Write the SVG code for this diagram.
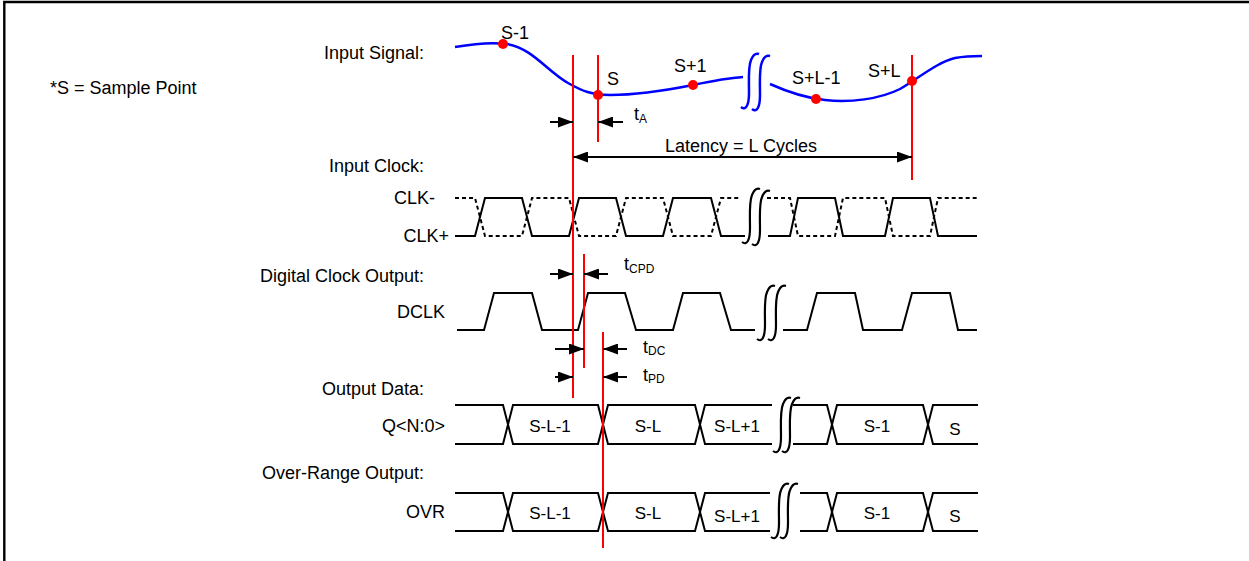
<svg xmlns="http://www.w3.org/2000/svg" width="1249" height="561" viewBox="0 0 1249 561">
<style>
text{font-family:"Liberation Sans",Arial,sans-serif;font-size:18px;fill:#000}
.r{text-anchor:end}
.m{text-anchor:middle}
.d{font-size:17px}
.sub{font-size:12px}
.sig{fill:none;stroke:#000;stroke-width:2;stroke-linejoin:miter}
.dash{fill:none;stroke:#000;stroke-width:2;stroke-dasharray:4 3}
.blue{fill:none;stroke:#0000ff;stroke-width:2.5}
.red{stroke:#ff0000;stroke-width:2}
.dot{fill:#ff0000}
.brk{fill:none;stroke:#000;stroke-width:2.2}
.arr{stroke:#000;stroke-width:2;fill:none}
</style>
<defs>
<marker id="ah" viewBox="0 0 15 11" refX="15" refY="5.5" markerWidth="15" markerHeight="11" orient="auto-start-reverse" markerUnits="userSpaceOnUse"><path d="M0,0 L15,5.5 L0,11 z" fill="#000"/></marker>
<path id="brk" d="M0,54 C5,58 8,52 8,40 C8,26 7,14 10,7 C12,2 15,0 18,1"/>
</defs>
<rect width="1249" height="561" fill="#fff"/>
<path d="M4.3,561 V2 H1249" fill="none" stroke="#000" stroke-width="2.4"/>

<g id="legend"><text x="50" y="94">*S = Sample Point</text></g>

<g id="input-signal">
<text class="r" x="424" y="59">Input Signal:</text>
<path class="blue" d="M455,47 C472,44 492,42 507,44 C532,48 548,72 568,83 C582,91 592,95 610,95 C640,95 668,90 693,85 C712,81 728,78 743,77"/>
<path class="blue" d="M770,84 C790,93 805,98 825,100 C850,103 880,99 900,89 C920,77 938,62 955,58 C966,56 975,56 982,56"/>
<g stroke="#0000ff" stroke-width="2.5" fill="none"><use href="#brk" transform="translate(741,53)"/><use href="#brk" transform="translate(752,55)"/></g>
<circle class="dot" cx="503" cy="44" r="5"/>
<circle class="dot" cx="598" cy="95" r="5"/>
<circle class="dot" cx="693" cy="85" r="5"/>
<circle class="dot" cx="816" cy="99" r="5"/>
<circle class="dot" cx="912" cy="81" r="5"/>
<text x="501" y="39">S-1</text>
<text x="607" y="85">S</text>
<text x="674" y="72">S+1</text>
<text x="792" y="84">S+L-1</text>
<text x="868" y="77">S+L</text>
</g>

<g id="input-clock">
<text class="r" x="424" y="172">Input Clock:</text>
<text x="394" y="204">CLK-</text>
<text class="r" x="449" y="242">CLK+</text>
<path class="sig" d="M455,236 H475 L485,198 H522 L532,236 H569 L579,198 H616 L626,236 H663 L673,198 H711 L721,236 H745"/>
<path class="dash" d="M455,198 H475 L485,236 H522 L532,198 H569 L579,236 H616 L626,198 H663 L673,236 H711 L721,198 H741"/>
<path class="sig" d="M768,236 H790 L798,198 H835 L843,236 H885 L893,198 H930 L938,236 H977"/>
<path class="dash" d="M767,198 H790 L798,236 H835 L843,198 H885 L893,236 H930 L938,198 H977"/>
<g class="brk"><use href="#brk" transform="translate(742,188)"/><use href="#brk" transform="translate(752,190)"/></g>
</g>

<g id="dclk">
<text class="r" x="424" y="282">Digital Clock Output:</text>
<text class="r" x="445" y="318">DCLK</text>
<path class="sig" d="M457,330 H484 L494,293 H532 L542,330 H578 L588,293 H625 L636,330 H673 L683,293 H720 L731,330 H755"/>
<path class="sig" d="M783,330 H807 L817,293 H855 L863,330 H902 L912,293 H950 L958,330 H977"/>
<g class="brk"><use href="#brk" transform="translate(757,285)"/><use href="#brk" transform="translate(768,285)"/></g>
</g>

<g id="output-data">
<text class="r" x="424" y="395">Output Data:</text>
<text class="r" x="445" y="432">Q&lt;N:0&gt;</text>
<path class="sig" d="M455,405 H503 L513,444 H598 L608,405 H695 L705,444 H772"/>
<path class="sig" d="M455,444 H503 L513,405 H598 L608,444 H695 L705,405 H772"/>
<path class="sig" d="M793,405 H827 L837,444 H923 L933,405 H978"/>
<path class="sig" d="M793,444 H827 L837,405 H923 L933,444 H978"/>
<g class="brk"><use href="#brk" transform="translate(773,397)"/><use href="#brk" transform="translate(782,397)"/></g>
<text class="m d" x="550" y="432">S-L-1</text>
<text class="m d" x="648" y="432">S-L</text>
<text class="m d" x="737" y="432">S-L+1</text>
<text class="m d" x="877" y="432">S-1</text>
<text class="m d" x="955" y="435">S</text>
</g>

<g id="ovr">
<text class="r" x="424" y="479">Over-Range Output:</text>
<text class="r" x="445" y="518">OVR</text>
<path class="sig" d="M455,493 H503 L513,531 H598 L608,493 H695 L705,531 H770"/>
<path class="sig" d="M455,531 H503 L513,493 H598 L608,531 H695 L705,493 H770"/>
<path class="sig" d="M800,493 H827 L837,531 H923 L933,493 H978"/>
<path class="sig" d="M800,531 H827 L837,493 H923 L933,531 H978"/>
<g class="brk"><use href="#brk" transform="translate(771,483)"/><use href="#brk" transform="translate(780,483)"/></g>
<text class="m d" x="550" y="519">S-L-1</text>
<text class="m d" x="648" y="519">S-L</text>
<text class="m d" x="737" y="522">S-L+1</text>
<text class="m d" x="877" y="519">S-1</text>
<text class="m d" x="955" y="522">S</text>
</g>

<g id="timing-lines">
<line class="red" x1="573" y1="55" x2="573" y2="398"/>
<line class="red" x1="598" y1="55" x2="598" y2="142"/>
<line class="red" x1="912" y1="55" x2="912" y2="180"/>
<line class="red" x1="584" y1="254" x2="584" y2="368"/>
<line class="red" x1="603" y1="332" x2="603" y2="548"/>
</g>

<g id="connectors">
<line class="arr" x1="550" y1="122" x2="573" y2="122" marker-end="url(#ah)"/>
<line class="arr" x1="623" y1="122" x2="598" y2="122" marker-end="url(#ah)"/>
<line class="arr" x1="573" y1="157" x2="912" y2="157" marker-start="url(#ah)" marker-end="url(#ah)"/>
<line class="arr" x1="550" y1="274" x2="573" y2="274" marker-end="url(#ah)"/>
<line class="arr" x1="608" y1="274" x2="584" y2="274" marker-end="url(#ah)"/>
<line class="arr" x1="555" y1="349" x2="584" y2="349" marker-end="url(#ah)"/>
<line class="arr" x1="627" y1="349" x2="603" y2="349" marker-end="url(#ah)"/>
<line class="arr" x1="555" y1="377" x2="573" y2="377" marker-end="url(#ah)"/>
<line class="arr" x1="627" y1="377" x2="603" y2="377" marker-end="url(#ah)"/>
</g>

<g id="labels">
<text x="634" y="120">t<tspan class="sub" dy="3">A</tspan></text>
<text class="m" x="741" y="152">Latency = L Cycles</text>
<text x="624" y="270">t<tspan class="sub" dy="3">CPD</tspan></text>
<text x="643" y="353">t<tspan class="sub" dy="2">DC</tspan></text>
<text x="643" y="381">t<tspan class="sub" dy="2">PD</tspan></text>
</g>
</svg>
